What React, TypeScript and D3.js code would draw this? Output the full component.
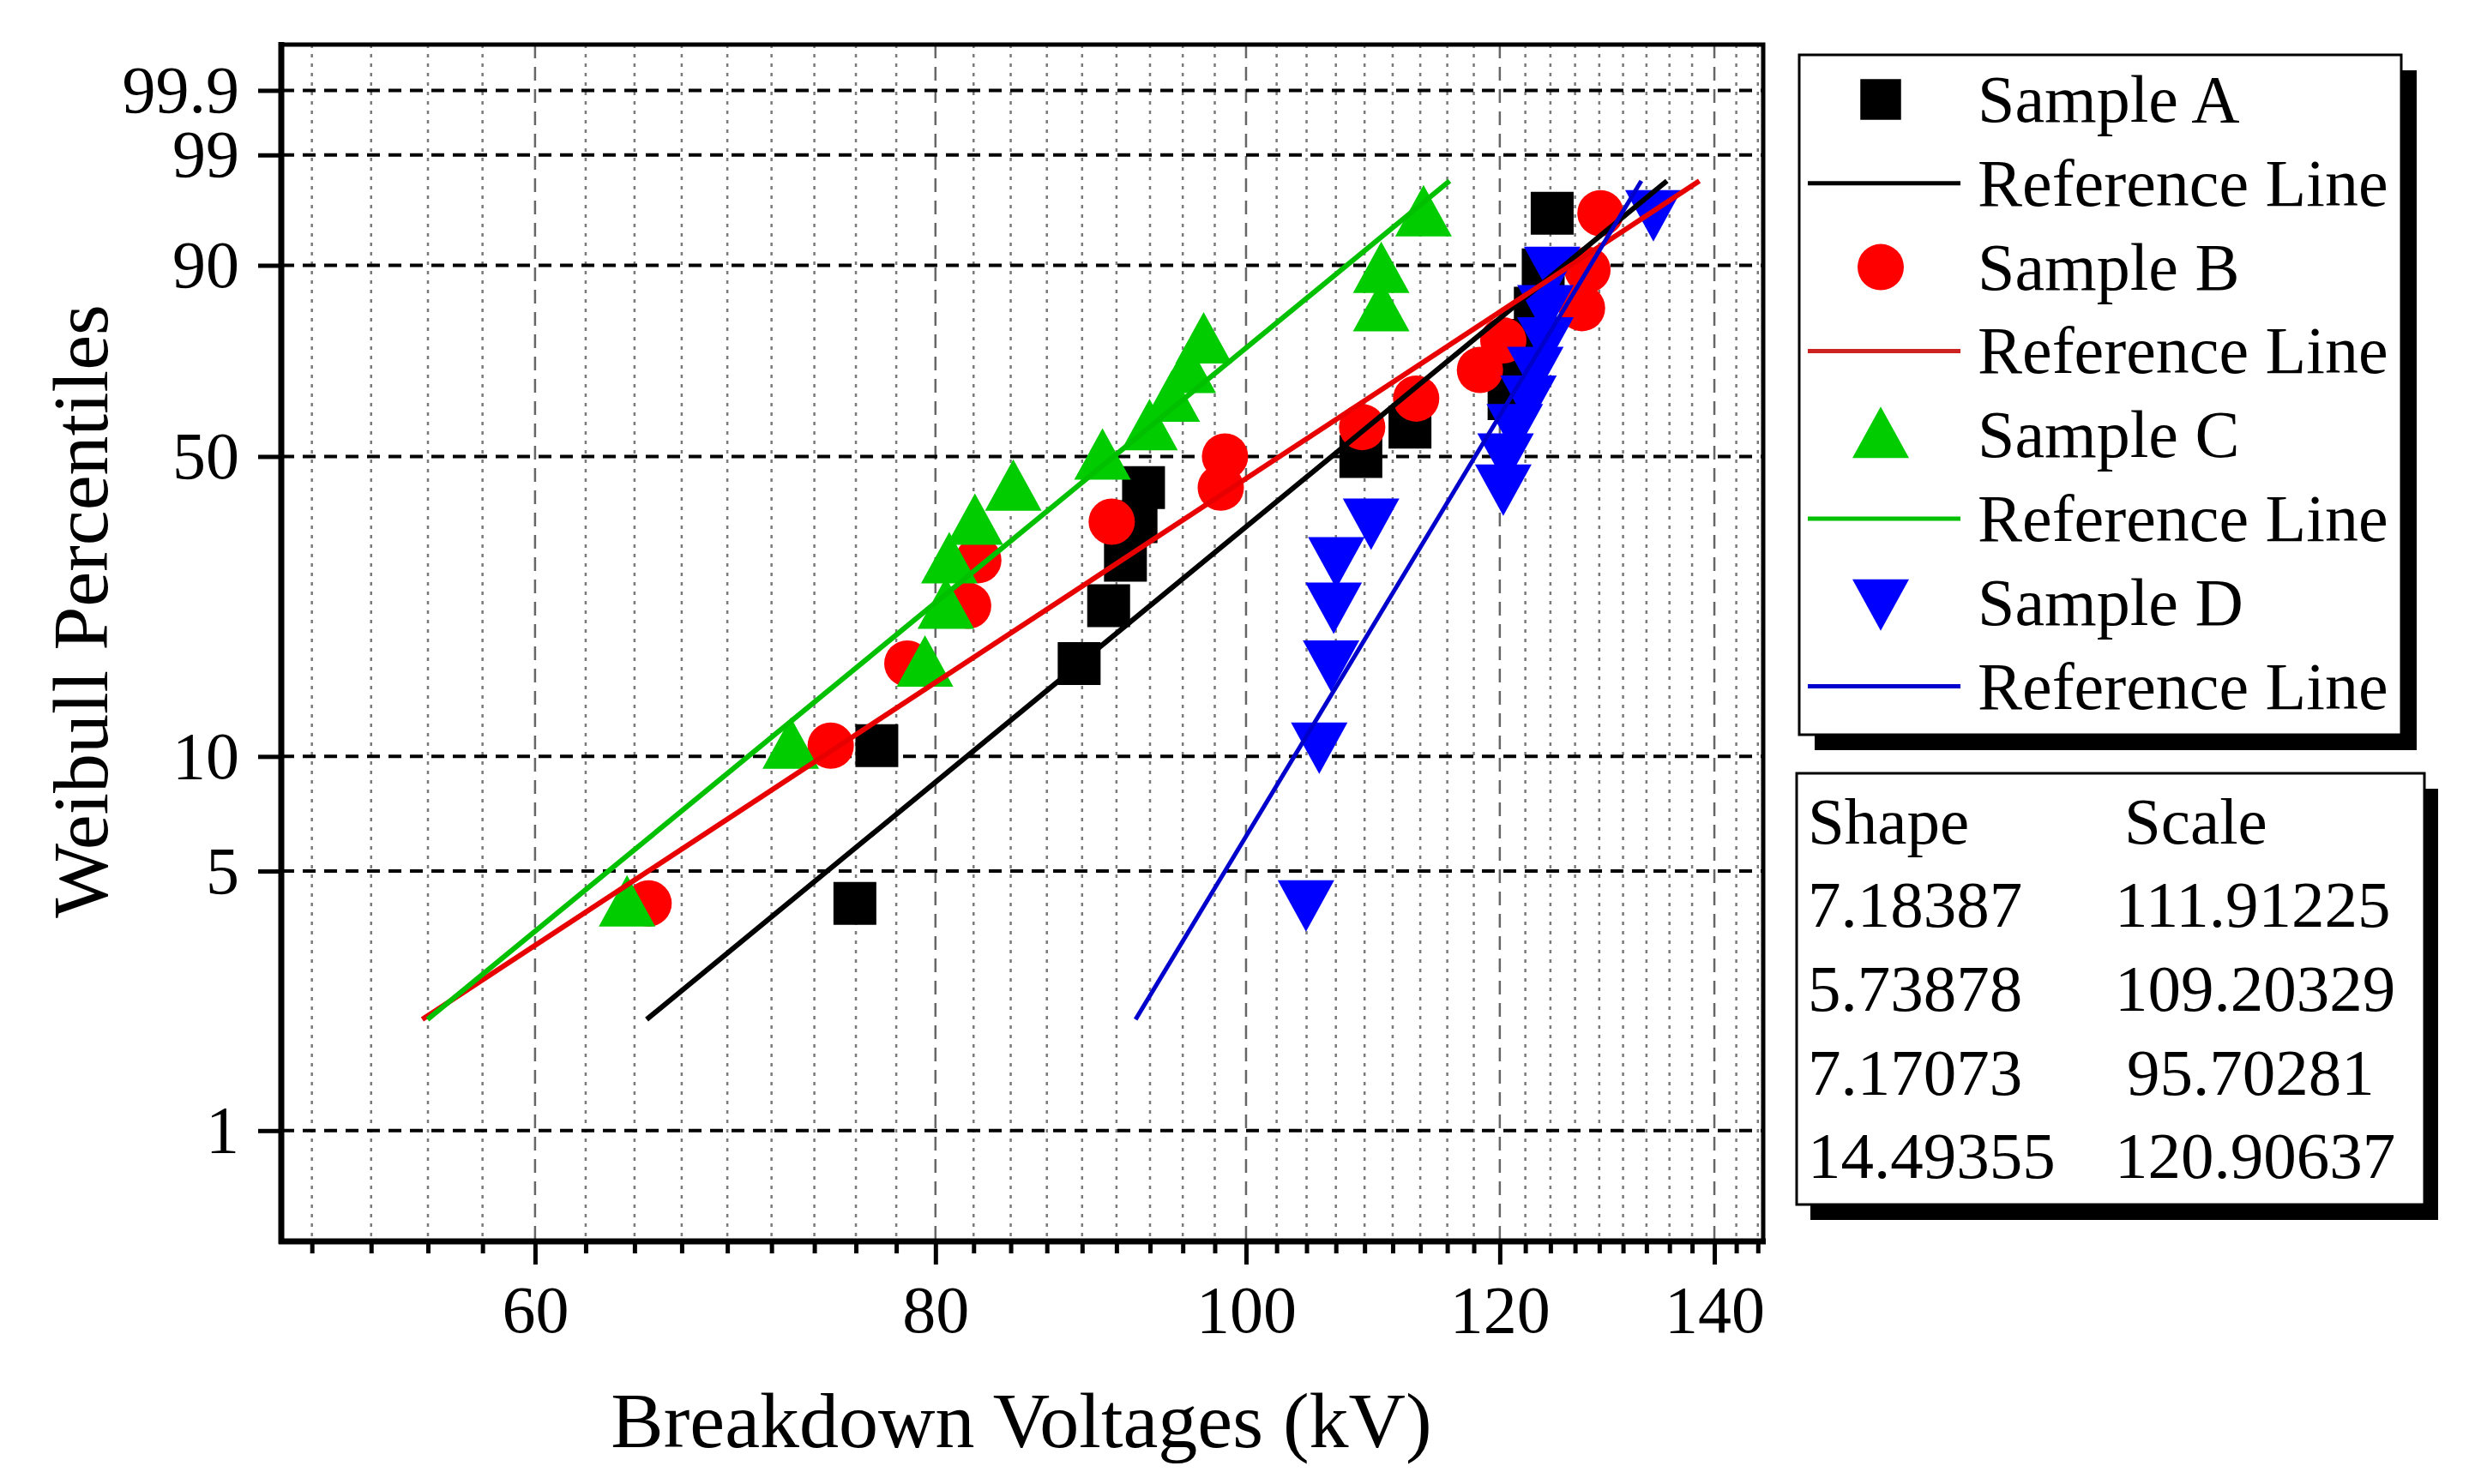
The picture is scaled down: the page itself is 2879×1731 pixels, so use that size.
import React, { useEffect, useRef } from 'react';
import * as d3 from 'd3';

// plotting positions (%) shared by every sample, 15 specimens each
const percentiles = [4.1, 10.66, 17.21, 23.77, 30.33, 36.89, 43.44, 50.0, 56.56, 63.11, 69.67, 76.23, 82.79, 89.34, 95.9];

// breakdown voltages (kV), sorted
const sampleA = [75.5, 76.7, 88.7, 90.6, 91.7, 92.4, 92.9, 108.6, 112.5, 120.8, 121.8, 122.3, 123.1, 123.8, 124.6];
const sampleB = [65.1, 74.2, 78.4, 81.9, 82.5, 90.8, 98.2, 98.5, 108.7, 113.0, 118.3, 120.3, 127.3, 127.8, 129.0];
const sampleC = [64.1, 72.1, 79.4, 80.6, 80.8, 82.3, 84.6, 90.2, 93.3, 94.8, 95.9, 97.0, 110.2, 110.2, 113.6];
const sampleD = [104.4, 105.4, 106.3, 106.5, 106.7, 109.4, 120.3, 120.5, 121.3, 122.5, 123.1, 124.0, 124.0, 124.6, 134.0];

// reference line end points [kV, %]
const refLineA = [[65.01, 2], [135.31, 98]];
const refLineB = [[55.33, 2], [138.5, 98]];
const refLineC = [[55.54, 2], [115.75, 98]];
const refLineD = [[92.37, 2], [132.84, 98]];

const sampleNames = ['Sample A', 'Sample B', 'Sample C', 'Sample D'];
const shapeValues = ['7.18387', '5.73878', '7.17073', '14.49355'];
const scaleValues = ['111.91225', '109.20329', '95.70281', '120.90637'];

const xTickValues = [60, 80, 100, 120, 140];
const yTickValues = [1, 5, 10, 50, 90, 99, 99.9];

const WIDTH = 2879;
const HEIGHT = 1731;
const FONT = '"Liberation Serif", "Times New Roman", serif';

const weibull = (p) => Math.log(-Math.log(1 - p / 100));

const markerPath = (kind) => {
  if (kind === 'square') return 'M-25,-25H25V25H-25Z';
  if (kind === 'circle') return 'M-27,0A27,27 0 1,0 27,0A27,27 0 1,0 -27,0Z';
  if (kind === 'up') return 'M0,-33L33,27L-33,27Z';
  return 'M0,33L33,-27L-33,-27Z';
};

const App = () => {
  const svgRef = useRef<SVGSVGElement | null>(null);

  useEffect(() => {
    const svg = d3.select(svgRef.current);
    svg.selectAll('*').remove();

    const left = 328, right = 2056, top = 52, bottom = 1448;
    const x = d3.scaleLog().domain([50, 145]).range([left, right]);
    const yW = d3.scaleLinear().domain([weibull(0.5), weibull(99.99)]).range([bottom, top]);
    const y = (p) => yW(weibull(p));

    svg.append('rect').attr('width', WIDTH).attr('height', HEIGHT).attr('fill', '#fff');

    const series = [
      { values: sampleA, ref: refLineA, kind: 'square', fill: '#000000', line: '#000000', lw: 6 },
      { values: sampleB, ref: refLineB, kind: 'circle', fill: '#ff0000', line: '#e80000', lw: 6 },
      { values: sampleC, ref: refLineC, kind: 'up', fill: '#00cc00', line: '#00c000', lw: 6 },
      { values: sampleD, ref: refLineD, kind: 'down', fill: '#0000ff', line: '#0000cc', lw: 5 },
    ];

    // minor vertical grid (8 minor ticks between majors)
    const minorStep = 20 / 9;
    const minorTicks = d3
      .range(60 - 4 * minorStep, 145, minorStep)
      .filter((v) => !xTickValues.some((t) => Math.abs(t - v) < 0.01));

    const grid = svg.append('g');
    minorTicks.forEach((v) => {
      grid.append('line').attr('x1', x(v)).attr('x2', x(v)).attr('y1', top).attr('y2', bottom)
        .attr('stroke', '#7a7a7a').attr('stroke-width', 2.5).attr('stroke-dasharray', '4,7');
    });
    xTickValues.forEach((v) => {
      grid.append('line').attr('x1', x(v)).attr('x2', x(v)).attr('y1', top).attr('y2', bottom)
        .attr('stroke', '#666').attr('stroke-width', 2.5).attr('stroke-dasharray', '16,10');
    });
    yTickValues.forEach((p) => {
      grid.append('line').attr('x1', left).attr('x2', right).attr('y1', y(p)).attr('y2', y(p))
        .attr('stroke', '#000').attr('stroke-width', 4).attr('stroke-dasharray', '15,10');
    });

    // markers
    series.forEach((s) => {
      svg.append('g').selectAll('path')
        .data(s.values)
        .enter()
        .append('path')
        .attr('d', markerPath(s.kind))
        .attr('transform', (d, i) => `translate(${x(d)},${y(percentiles[i])})`)
        .attr('fill', s.fill);
    });

    // reference lines
    const line = d3.line().x((d) => x(d[0])).y((d) => y(d[1]));
    series.forEach((s) => {
      svg.append('path').datum(s.ref).attr('d', line).attr('fill', 'none')
        .attr('stroke', s.line).attr('stroke-width', s.lw);
    });

    // axes
    const xAxis = svg.append('g').attr('transform', `translate(0,${bottom})`)
      .call(d3.axisBottom(x).tickValues(xTickValues).tickFormat(d3.format('d')).tickSize(27).tickSizeOuter(0).tickPadding(24));
    xAxis.select('.domain').remove();
    xAxis.selectAll('.tick line').attr('stroke', '#000').attr('stroke-width', 5);
    xAxis.selectAll('.tick text').attr('fill', '#000').style('font-family', FONT).style('font-size', '78px');

    const xMinor = svg.append('g').attr('transform', `translate(0,${bottom})`)
      .call(d3.axisBottom(x).tickValues(minorTicks).tickFormat(() => '').tickSize(14).tickSizeOuter(0));
    xMinor.select('.domain').remove();
    xMinor.selectAll('.tick line').attr('stroke', '#000').attr('stroke-width', 5);

    const yAxis = svg.append('g').attr('transform', `translate(${left},0)`)
      .call(d3.axisLeft(yW).tickValues(yTickValues.map(weibull))
        .tickFormat((d, i) => String(yTickValues[i])).tickSize(27).tickSizeOuter(0).tickPadding(22));
    yAxis.select('.domain').remove();
    yAxis.selectAll('.tick line').attr('stroke', '#000').attr('stroke-width', 5);
    yAxis.selectAll('.tick text').attr('fill', '#000').style('font-family', FONT).style('font-size', '78px');

    // frame
    svg.append('rect').attr('x', left).attr('y', top).attr('width', right - left).attr('height', bottom - top)
      .attr('fill', 'none').attr('stroke', '#000').attr('stroke-width', 5);
    svg.append('line').attr('x1', left - 3).attr('x2', right + 3).attr('y1', bottom).attr('y2', bottom)
      .attr('stroke', '#000').attr('stroke-width', 7);
    svg.append('line').attr('x1', left).attr('x2', left).attr('y1', top - 3).attr('y2', bottom + 3)
      .attr('stroke', '#000').attr('stroke-width', 7);

    // axis titles
    svg.append('text').attr('x', 1191).attr('y', 1688).attr('text-anchor', 'middle')
      .style('font-family', FONT).style('font-size', '92px').text('Breakdown Voltages (kV)');
    svg.append('text').attr('transform', 'translate(125,713) rotate(-90)').attr('text-anchor', 'middle')
      .style('font-family', FONT).style('font-size', '92px').text('Weibull Percentiles');

    // legend
    const lx = 2098, ly = 64, lw = 702, lh = 793;
    svg.append('rect').attr('x', lx + 18).attr('y', ly + 18).attr('width', lw).attr('height', lh).attr('fill', '#000');
    svg.append('rect').attr('x', lx).attr('y', ly).attr('width', lw).attr('height', lh)
      .attr('fill', '#fff').attr('stroke', '#000').attr('stroke-width', 3);
    const rowStep = 97.8;
    series.forEach((s, i) => {
      const cy1 = 116 + rowStep * (2 * i);
      const cy2 = 116 + rowStep * (2 * i + 1);
      svg.append('path').attr('d', markerPath(s.kind))
        .attr('transform', `translate(2193,${cy1}) scale(${s.kind === 'square' ? 0.95 : 1})`).attr('fill', s.fill);
      svg.append('text').attr('x', 2306).attr('y', cy1 + 26).style('font-family', FONT).style('font-size', '78px')
        .text(sampleNames[i]);
      svg.append('line').attr('x1', 2108).attr('x2', 2286).attr('y1', cy2).attr('y2', cy2)
        .attr('stroke', i === 1 ? '#cc2222' : s.line).attr('stroke-width', 5);
      svg.append('text').attr('x', 2306).attr('y', cy2 + 26).style('font-family', FONT).style('font-size', '78px')
        .text('Reference Line');
    });

    // shape / scale box
    const sx = 2095, sy = 902, sw = 732, sh = 503;
    svg.append('rect').attr('x', sx + 16).attr('y', sy + 18).attr('width', sw).attr('height', sh).attr('fill', '#000');
    svg.append('rect').attr('x', sx).attr('y', sy).attr('width', sw).attr('height', sh)
      .attr('fill', '#fff').attr('stroke', '#000').attr('stroke-width', 3);
    svg.append('text').attr('x', 2108).attr('y', 984).style('font-family', FONT).style('font-size', '77px').text('Shape');
    svg.append('text').attr('x', 2477).attr('y', 984).style('font-family', FONT).style('font-size', '77px').text('Scale');
    shapeValues.forEach((v, i) => {
      const by = 1081 + rowStep * i;
      svg.append('text').attr('x', 2108).attr('y', by).style('font-family', FONT).style('font-size', '77px').text(v);
      svg.append('text').attr('x', scaleValues[i].length < 9 ? 2480 : 2466).attr('y', by)
        .style('font-family', FONT).style('font-size', '77px').text(scaleValues[i]);
    });
  }, []);

  return <svg ref={svgRef} width={WIDTH} height={HEIGHT} style={{ position: 'absolute', left: 0, top: 0 }} />;
};

export default App;
